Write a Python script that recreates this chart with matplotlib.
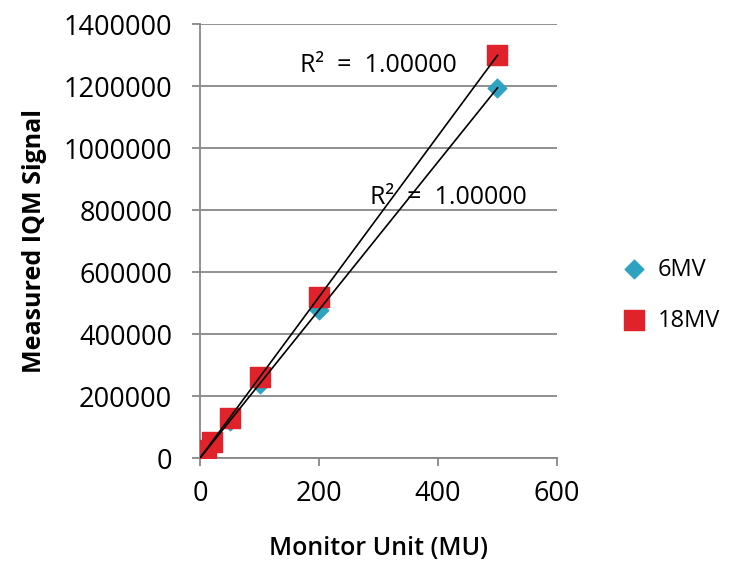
import numpy as np
from matplotlib import pyplot as plt
from matplotlib.ticker import FormatStrFormatter

# monitor units and measured signal
mu = [1, 2, 5, 10, 20, 50, 100, 200, 500]
signal_6mv = [2400, 4800, 12000, 23900, 47800, 119500, 239000, 478000, 1195000]
signal_18mv = [2600, 5200, 13000, 26000, 52000, 130000, 260000, 520000, 1300000]
r2_labels = ['R²  =  1.00000', 'R²  =  1.00000']

plt.rcParams['font.family'] = ['Open Sans', 'DejaVu Sans']

fig = plt.figure(figsize=(7.3, 5.61), dpi=100)
ax = fig.add_axes([0.274, 0.1836, 0.489, 0.773])

grid_c = '#878787'
ax.grid(axis='y', color=grid_c, linewidth=1.3)
ax.set_axisbelow(True)
for s in ['top', 'right']:
    ax.spines[s].set_visible(False)
for s in ['left', 'bottom']:
    ax.spines[s].set_color(grid_c)
    ax.spines[s].set_linewidth(1.3)

ax.scatter(mu, signal_6mv, marker='D', s=90, color='#2ea3c1', label='6MV', zorder=3)
ax.scatter(mu, signal_18mv, marker='s', s=190, color='#e0232a', label='18MV', zorder=3)

# linear trendlines
xs = np.array([0, max(mu)])
for sig in [signal_6mv, signal_18mv]:
    k, b = np.polyfit(mu, sig, 1)
    ax.plot(xs, k * xs + b, color='black', linewidth=1.2, zorder=4)

ax.text(168, 1268000, r2_labels[1], fontsize=18, va='center', ha='left', zorder=5)
ax.text(285, 842000, r2_labels[0], fontsize=18, va='center', ha='left', zorder=5)

ax.set_xlim(0, 600)
ax.set_ylim(0, 1400000)
ax.set_xticks([0, 200, 400, 600])
ax.set_yticks(range(0, 1400001, 200000))
ax.yaxis.set_major_formatter(FormatStrFormatter('%d'))
ax.tick_params(axis='both', labelsize=19.5, color=grid_c, width=1.3, length=6, direction='out')
ax.tick_params(axis='x', pad=10)
ax.tick_params(axis='y', pad=14)

ax.set_xlabel('Monitor Unit (MU)', fontsize=18, fontweight='semibold', labelpad=20)
ax.set_ylabel('Measured IQM Signal', fontsize=18, fontweight='bold', labelpad=12)

fig.legend(loc='center left', bbox_to_anchor=(0.852, 0.474), frameon=False,
           fontsize=17, handlelength=1.0, handletextpad=0.5, labelspacing=1.15,
           scatterpoints=1, borderaxespad=0, borderpad=0)

fig.savefig('out.png', dpi=100)
